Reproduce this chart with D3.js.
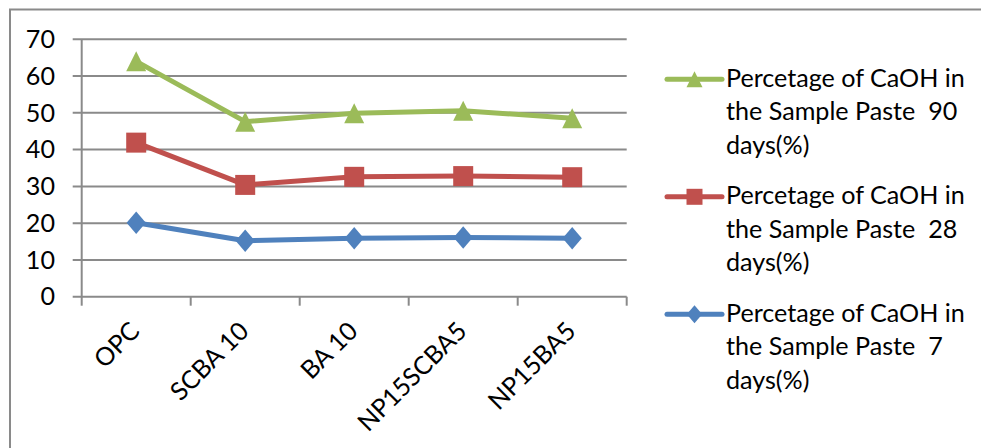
<!DOCTYPE html>
<html>
<head>
<meta charset="utf-8">
<script src="https://cdn.jsdelivr.net/npm/d3@7"></script>
<style>
  html, body { margin: 0; padding: 0; background: #fff; }
  svg { display: block; }
</style>
</head>
<body>
<svg id="chart" width="981" height="448"></svg>
<script>
// Samples and CaOH percentages per curing age
const categories = ["OPC", "SCBA 10", "BA 10", "NP15SCBA5", "NP15BA5"];
const days7  = [20.1, 15.2, 15.9, 16.1, 15.9];
const days28 = [41.9, 30.4, 32.6, 32.8, 32.5];
const days90 = [64.0, 47.6, 49.9, 50.6, 48.5];
const yTicks = [0, 10, 20, 30, 40, 50, 60, 70];
const legendLines = {
  d90: ["Percetage of CaOH in", "the Sample Paste  90", "days(%)"],
  d28: ["Percetage of CaOH in", "the Sample Paste  28", "days(%)"],
  d7:  ["Percetage of CaOH in", "the Sample Paste  7", "days(%)"]
};

const FONT = "Lato, 'Open Sans', 'Liberation Sans', sans-serif";
const svg = d3.select("#chart");

// Size the text so the legend's first line spans its column width
const probe = svg.append("text").attr("font-family", FONT).attr("font-size", 100)
  .text(legendLines.d90[0]);
const probeW = probe.node().getComputedTextLength();
probe.remove();
const fontSize = Math.min(30, 100 * 239 / probeW);

// Chart frame
svg.append("rect")
  .attr("x", 10).attr("y", 9.5).attr("width", 1000).attr("height", 500)
  .attr("fill", "none").attr("stroke", "#8a8a8a").attr("stroke-width", 2);

const plot = { left: 81.7, right: 626.7, top: 39.3, bottom: 296.7 };

const x = d3.scaleBand().domain(categories).range([plot.left, plot.right]).padding(0);
const y = d3.scaleLinear().domain([0, 70]).range([plot.bottom, plot.top]);

const gridColor = "#8a8a8a";

// Horizontal gridlines with left tick stubs
svg.append("g").selectAll("line").data(yTicks).join("line")
  .attr("x1", plot.left - 9).attr("x2", plot.right)
  .attr("y1", d => y(d)).attr("y2", d => y(d))
  .attr("stroke", gridColor).attr("stroke-width", 2);

// Value axis line
svg.append("line")
  .attr("x1", plot.left).attr("x2", plot.left)
  .attr("y1", y(70)).attr("y2", y(0))
  .attr("stroke", gridColor).attr("stroke-width", 2);

// Category tick marks at band boundaries
const bounds = categories.map(c => x(c)).concat([x(categories[categories.length - 1]) + x.bandwidth()]);
svg.append("g").selectAll("line").data(bounds).join("line")
  .attr("x1", d => d).attr("x2", d => d)
  .attr("y1", y(0)).attr("y2", y(0) + 9)
  .attr("stroke", gridColor).attr("stroke-width", 2);

// Y tick labels
svg.append("g").selectAll("text").data(yTicks).join("text")
  .attr("x", 55).attr("y", d => y(d))
  .attr("dy", "0.35em")
  .attr("text-anchor", "end")
  .attr("font-family", FONT).attr("font-size", fontSize).attr("fill", "#000")
  .text(d => d);

// Rotated category labels
svg.append("g").selectAll("text").data(categories).join("text")
  .attr("transform", d => `translate(${x(d) + x.bandwidth() / 2 + 5},${y(0) + 36}) rotate(-45)`)
  .attr("text-anchor", "end")
  .attr("font-family", FONT).attr("font-size", fontSize).attr("fill", "#000")
  .text(d => d);

// Marker shapes
const squareSym = { draw(ctx, s) { const h = s / 2; ctx.rect(-h, -h, s, s); } };
const diamondSym = { draw(ctx, s) {
  const w = s * 0.48, h = s * 0.56;
  ctx.moveTo(0, -h); ctx.lineTo(w, 0); ctx.lineTo(0, h); ctx.lineTo(-w, 0); ctx.closePath();
} };
const triangleSym = { draw(ctx, s) {
  const w = s / 2, h = s / 2;
  ctx.moveTo(0, -h); ctx.lineTo(w, h); ctx.lineTo(-w, h); ctx.closePath();
} };

const series = [
  { key: "d7",  values: days7,  color: "#4F81BD", sym: diamondSym,  size: 20 },
  { key: "d28", values: days28, color: "#C0504D", sym: squareSym,   size: 20 },
  { key: "d90", values: days90, color: "#9BBB59", sym: triangleSym, size: 20 }
];

const line = d3.line()
  .x((d, i) => x(categories[i]) + x.bandwidth() / 2)
  .y(d => y(d));

series.forEach(s => {
  const g = svg.append("g");
  g.append("path")
    .attr("d", line(s.values))
    .attr("fill", "none").attr("stroke", s.color)
    .attr("stroke-width", 5).attr("stroke-linejoin", "round");
  g.selectAll("path.m").data(s.values).join("path")
    .attr("class", "m")
    .attr("transform", (d, i) => `translate(${x(categories[i]) + x.bandwidth() / 2},${y(d)})`)
    .attr("d", d3.symbol().type(s.sym).size(s.size))
    .attr("fill", s.color);
});

// Legend (90, 28, 7 days from top)
const legendOrder = [series[2], series[1], series[0]];
const lg = svg.append("g");
legendOrder.forEach((s, k) => {
  const base = 86.7 + k * 117.5;
  const my = base - 7.4;
  lg.append("line")
    .attr("x1", 667).attr("x2", 722).attr("y1", my).attr("y2", my)
    .attr("stroke", s.color).attr("stroke-width", 5).attr("stroke-linecap", "round");
  lg.append("path")
    .attr("transform", `translate(694.5,${my})`)
    .attr("d", d3.symbol().type(s.sym).size(16))
    .attr("fill", s.color);
  legendLines[s.key].forEach((t, j) => {
    lg.append("text")
      .attr("x", 726).attr("y", base + j * 33.6)
      .attr("font-family", FONT).attr("font-size", fontSize).attr("fill", "#000")
      .attr("xml:space", "preserve")
      .style("white-space", "pre")
      .text(t);
  });
});
</script>
</body>
</html>
